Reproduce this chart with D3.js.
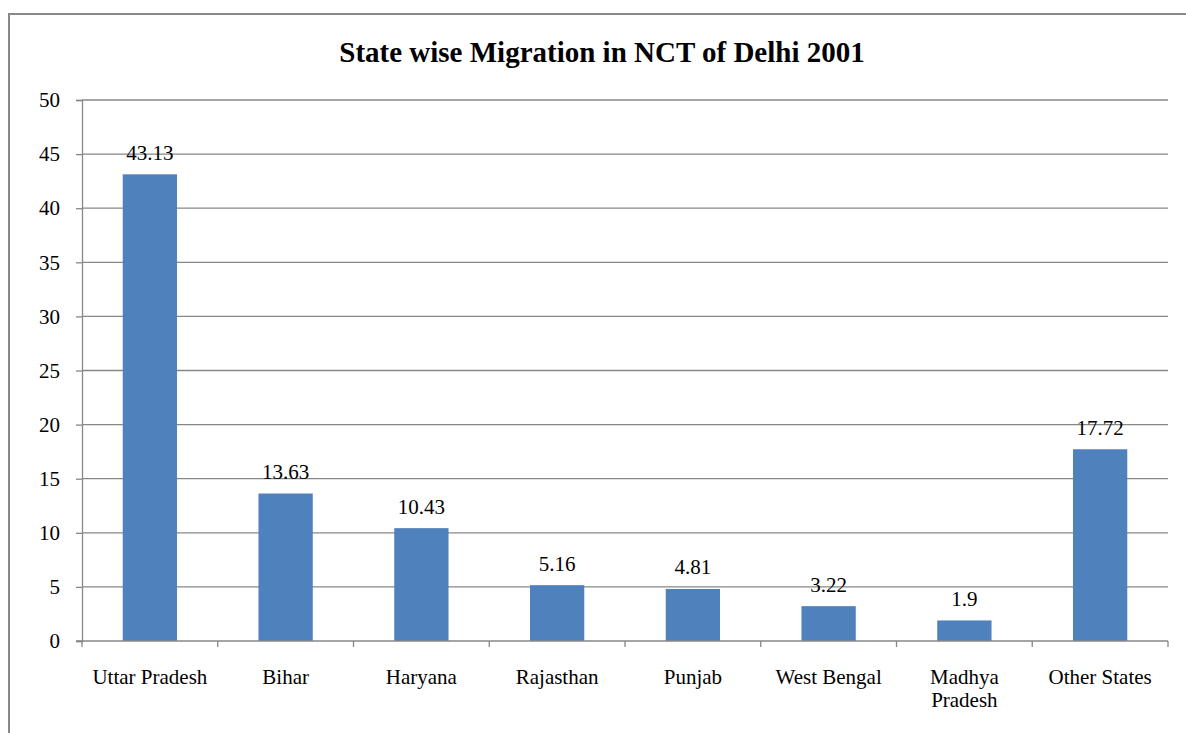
<!DOCTYPE html>
<html>
<head>
<meta charset="utf-8">
<script src="https://cdn.jsdelivr.net/npm/d3@7"></script>
<style>
  html, body { margin: 0; padding: 0; background: #fff; }
  svg { display: block; }
  text { font-family: "Liberation Serif", "Times New Roman", serif; fill: #000; }
</style>
</head>
<body>
<script>
// Share of migrants to Delhi by state of origin, 2001 (%)
const categories = ["Uttar Pradesh", "Bihar", "Haryana", "Rajasthan", "Punjab", "West Bengal", "Madhya Pradesh", "Other States"];
const values = [43.13, 13.63, 10.43, 5.16, 4.81, 3.22, 1.9, 17.72];
const yTicks = [0, 5, 10, 15, 20, 25, 30, 35, 40, 45, 50];
const title = "State wise Migration in NCT of Delhi 2001";

const W = 1186, H = 733;
const plot = { left: 82, right: 1168, top: 100, bottom: 641 };
const gridColor = "#878787";
const barColor = "#4f81bd";

const svg = d3.select("body").append("svg")
  .attr("width", W).attr("height", H);

// chart frame
svg.append("rect")
  .attr("x", 9).attr("y", 14)
  .attr("width", W + 20).attr("height", H + 20)
  .attr("fill", "#fff")
  .attr("stroke", "#888").attr("stroke-width", 2);

svg.append("text")
  .attr("x", 602).attr("y", 62)
  .attr("text-anchor", "middle")
  .attr("font-size", 29).attr("font-weight", "bold")
  .text(title);

const x = d3.scaleBand()
  .domain(categories)
  .range([plot.left, plot.right])
  .paddingInner(0.6).paddingOuter(0.3);

const y = d3.scaleLinear()
  .domain([0, 50])
  .range([plot.bottom, plot.top]);

// horizontal gridlines
svg.append("g")
  .selectAll("line")
  .data(yTicks.filter(t => t > 0))
  .join("line")
  .attr("x1", plot.left).attr("x2", plot.right)
  .attr("y1", d => y(d)).attr("y2", d => y(d))
  .attr("stroke", gridColor).attr("stroke-width", 1.3);

// y axis
const yAxis = svg.append("g")
  .attr("transform", `translate(${plot.left},0)`)
  .call(d3.axisLeft(y).tickValues(yTicks).tickSize(6).tickPadding(16));
yAxis.select(".domain").attr("stroke", gridColor).attr("stroke-width", 1.3);
yAxis.selectAll(".tick line").attr("stroke", gridColor).attr("stroke-width", 1.3);
yAxis.selectAll(".tick text")
  .attr("font-size", 21)
  .attr("font-family", "Liberation Serif, Times New Roman, serif")
  .attr("fill", "#000");

// bars
svg.append("g")
  .selectAll("rect")
  .data(values)
  .join("rect")
  .attr("x", (d, i) => x(categories[i]))
  .attr("width", x.bandwidth())
  .attr("y", d => y(d))
  .attr("height", d => y(0) - y(d))
  .attr("fill", barColor);

// value labels
svg.append("g")
  .selectAll("text")
  .data(values)
  .join("text")
  .attr("x", (d, i) => x(categories[i]) + x.bandwidth() / 2)
  .attr("y", d => y(d) - 14.5)
  .attr("text-anchor", "middle")
  .attr("font-size", 21)
  .text(d => d);

// x axis baseline and category separators
const step = x.step();
const xAxis = svg.append("g");
xAxis.append("line")
  .attr("x1", plot.left - 6).attr("x2", plot.right)
  .attr("y1", y(0)).attr("y2", y(0))
  .attr("stroke", gridColor).attr("stroke-width", 1.3);
xAxis.selectAll("line.sep")
  .data(d3.range(categories.length + 1))
  .join("line")
  .attr("class", "sep")
  .attr("x1", i => plot.left + i * step).attr("x2", i => plot.left + i * step)
  .attr("y1", y(0)).attr("y2", y(0) + 6)
  .attr("stroke", gridColor).attr("stroke-width", 1.3);

// category labels, wrapped where too wide for one band
const catLabels = svg.append("g");
categories.forEach((c, i) => {
  const cx = x(c) + x.bandwidth() / 2;
  const t = catLabels.append("text")
    .attr("x", cx).attr("y", 684)
    .attr("text-anchor", "middle")
    .attr("font-size", 21);
  const lines = c === "Madhya Pradesh" ? c.split(" ") : [c];
  lines.forEach((ln, k) => {
    t.append("tspan").attr("x", cx).attr("dy", k === 0 ? 0 : 23).text(ln);
  });
});
</script>
</body>
</html>
